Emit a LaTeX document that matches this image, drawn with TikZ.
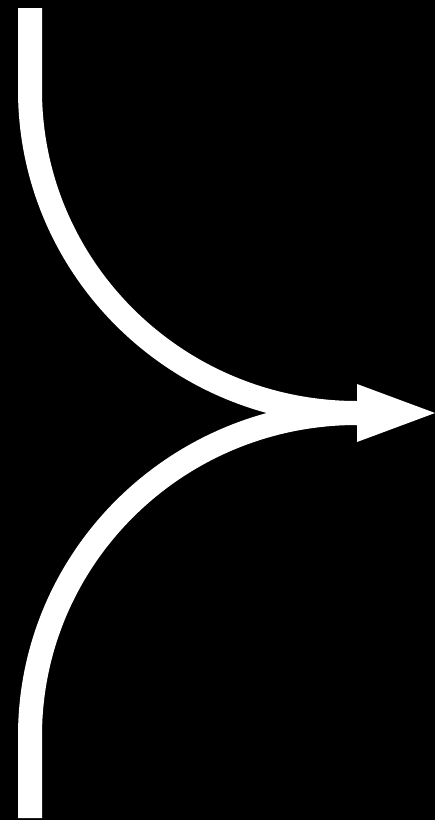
\documentclass[tikz,border=0pt]{standalone}
\begin{document}
\begin{tikzpicture}[x=1pt,y=-1pt,
  flow/.style={draw=white,line width=24pt,line cap=butt},
  head/.style={fill=white,draw=none}]
\fill[black] (0,0) rectangle (435,820);
\useasboundingbox (0,0) rectangle (435,820);
\coordinate (ts) at (30,8);
\coordinate (tb) at (30,90);
\coordinate (bs) at (30,818);
\coordinate (bb) at (30,736);
\coordinate (m) at (357,413);
\coordinate (tip) at (435,413);
\draw[flow] (ts) -- (tb) .. controls (30,268.4) and (176.4,413) .. (m);
\draw[flow] (bs) -- (bb) .. controls (30,557.6) and (176.4,413) .. (m);
\fill[head] (357,384) -- (tip) -- (357,442) -- cycle;
\end{tikzpicture}
\end{document}
